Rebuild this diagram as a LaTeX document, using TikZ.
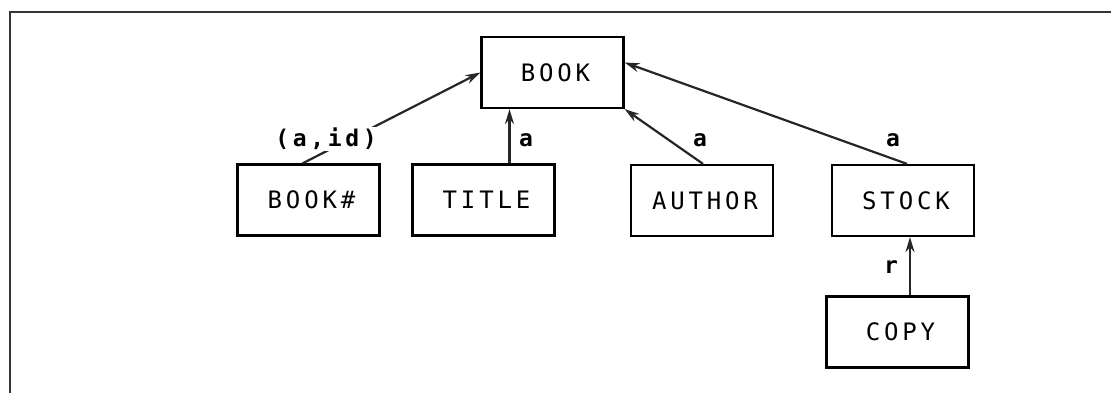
\documentclass[tikz,border=0pt]{standalone}
\usepackage{fontspec}
\newfontfamily\dmfont[LetterSpace=16]{DejaVu Sans Mono}
\usetikzlibrary{arrows.meta}

\begin{document}
\begin{tikzpicture}[x=1pt, y=-1pt, line width=2.2pt,
  box/.style={draw, inner sep=0pt, minimum width=142pt, minimum height=71pt,
              font=\dmfont\fontsize{24}{24}\selectfont},
  link/.style={-{Stealth[length=15pt, width=9pt]}, draw=black!85},
  lbl/.style={inner sep=1pt, font=\dmfont\bfseries\fontsize{23}{23}\selectfont}]

  \useasboundingbox (0,0) rectangle (1111,393);

  % page frame: top and left rules only
  \draw[line width=2.6pt, black!80] (10,393) -- (10,12) -- (1111,12);

  % entities
  \node[box] (book)   at (552.5, 72.5) {\hspace*{6pt}BOOK};
  \node[box] (bookno) at (308.5,200)   {\hspace*{6pt}BOOK\#};
  \node[box] (title)  at (483.5,200)   {\hspace*{6pt}TITLE};
  \node[box] (author) at (702,200.5)   {\hspace*{6pt}AUTHOR};
  \node[box] (stock)  at (903,200.5)   {\hspace*{6pt}STOCK};
  \node[box] (copy)   at (897.5,332)   {\hspace*{6pt}COPY};

  % links to BOOK
  \draw[link] ([xshift=-6pt]bookno.north) -- (book.west);
  \node[lbl, fill=white] (lid) at (326,139) {(a,id)};

  \draw[link] ([xshift=26pt]title.north) -- ([xshift=26pt]title.north |- book.south);
  \node[lbl] (lt) at (526,140) {a};

  \draw[link] ([xshift=1pt]author.north) -- (book.south east);
  \node[lbl] (la) at (700,140) {a};

  \draw[link] ([xshift=4pt]stock.north) -- ([yshift=10pt]book.east);
  \node[lbl] (ls) at (893,140) {a};

  % COPY to STOCK
  \draw[link] ([xshift=12.5pt]copy.north) -- ([xshift=12.5pt]copy.north |- stock.south);
  \node[lbl] (lr) at (891,267) {r};
\end{tikzpicture}
\end{document}
